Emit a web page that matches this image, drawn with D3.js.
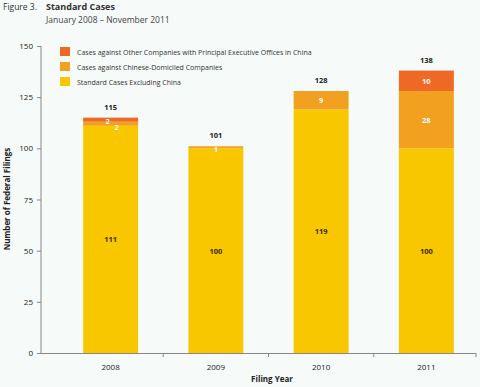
<!DOCTYPE html>
<html><head><meta charset="utf-8">
<script src="https://cdn.jsdelivr.net/npm/d3@7"></script>
<style>
html,body{margin:0;padding:0;background:#f6faf8;}
svg{display:block;font-family:"Open Sans","DejaVu Sans",sans-serif;}
</style></head>
<body><svg id="c" width="480" height="387"></svg>
<script>
const years = ["2008","2009","2010","2011"];
const standardExChina = [111,100,119,100];
const chineseDomiciled = [2,1,9,28];
const otherChinaPEO = [2,0,0,10];
const totals = [115,101,128,138];
const yTicks = [0,25,50,75,100,125,150];
const seriesNames = ["Standard Cases Excluding China","Cases against Chinese-Domiciled Companies","Cases against Other Companies with Principal Executive Offices in China"];
const seriesColors = ["#f8c700","#f2a01f","#ee6a24"];

const svg = d3.select("#c");
const y = d3.scaleLinear().domain([0,150]).range([353,46]);
const x = d3.scaleBand().domain(years).range([58,479]).paddingInner(0.478).paddingOuter(0.239);

// title
svg.append("text").attr("x",3).attr("y",10).attr("font-size",8.5).attr("fill","#333").text("Figure 3.");
svg.append("text").attr("x",46).attr("y",10).attr("font-size",9).attr("font-weight","bold").attr("fill","#333").text("Standard Cases");
svg.append("text").attr("x",46).attr("y",22.5).attr("font-size",8.5).attr("fill","#444").text("January 2008 \u2013 November 2011");

// axes
const yAxis = svg.append("g").attr("transform","translate(41,0)")
  .call(d3.axisLeft(y).tickValues(yTicks).tickSize(4).tickPadding(4));
yAxis.select(".domain").attr("stroke","#888").attr("d","M0,46V353");
yAxis.selectAll(".tick line").attr("stroke","#888");
yAxis.selectAll("text").attr("font-size",8).attr("fill","#222").attr("font-family","Open Sans, sans-serif");

svg.append("line").attr("x1",41).attr("x2",476).attr("y1",353.5).attr("y2",353.5).attr("stroke","#888");
const step = x.step();
[1,2,3].forEach(i=>{
  const tx = x.range()[0] + i*step;
  svg.append("line").attr("x1",tx).attr("x2",tx).attr("y1",353).attr("y2",357).attr("stroke","#888");
});
svg.append("line").attr("x1",476).attr("x2",476).attr("y1",353).attr("y2",357).attr("stroke","#888");
svg.append("g").selectAll("text").data(years).join("text")
  .attr("x",d=>x(d)+x.bandwidth()/2).attr("y",370).attr("text-anchor","middle")
  .attr("font-size",8).attr("fill","#222").text(d=>d);

svg.append("text").attr("x",272).attr("y",382).attr("text-anchor","middle")
  .attr("font-size",8).attr("font-weight","bold").attr("fill","#222").text("Filing Year");
svg.append("text").attr("transform","translate(10,199) rotate(-90)").attr("text-anchor","middle")
  .attr("font-size",8).attr("font-weight","bold").attr("fill","#222").text("Number of Federal Filings");

// stacked bars
const rows = years.map((yr,i)=>({year:yr, s0:standardExChina[i], s1:chineseDomiciled[i], s2:otherChinaPEO[i]}));
const stack = d3.stack().keys(["s0","s1","s2"])(rows);
const g = svg.append("g");
stack.forEach((layer,li)=>{
  g.append("g").selectAll("rect").data(layer).join("rect")
   .attr("x",d=>x(d.data.year)).attr("width",x.bandwidth())
   .attr("y",d=>y(d[1])).attr("height",d=>y(d[0])-y(d[1]))
   .attr("fill",seriesColors[li]);
});
// segment labels
stack.forEach((layer,li)=>{
  layer.forEach((d,i)=>{
    const v = d[1]-d[0];
    if(v<=0) return;
    let cx = x(d.data.year)+x.bandwidth()/2;
    let cy = (y(d[0])+y(d[1]))/2 + 3;
    if(v<5){
      if(d.data.year==="2008"){ if(li===1){cx+=6; cy+=3;} else {cx-=3; cy+=1;} }
      else { cy += 2; }
    }
    svg.append("text").attr("x",cx).attr("y",cy).attr("text-anchor","middle")
      .attr("font-size",7.5).attr("font-weight","bold")
      .attr("fill", li===0 ? "#3a2c00" : "#ffffff").text(v);
  });
});
// totals
svg.append("g").selectAll("text").data(years).join("text")
  .attr("x",d=>x(d)+x.bandwidth()/2).attr("y",(d,i)=>y(totals[i])-8)
  .attr("text-anchor","middle").attr("font-size",7.5).attr("font-weight","bold").attr("fill","#222")
  .text((d,i)=>totals[i]);

// legend
const legOrder = [2,1,0];
legOrder.forEach((si,k)=>{
  svg.append("rect").attr("x",60).attr("y",47+k*15).attr("width",10).attr("height",9).attr("fill",seriesColors[si]);
  svg.append("text").attr("x",77).attr("y",54.5+k*15).attr("font-size",7).attr("fill","#333").text(seriesNames[si]);
});
</script></body></html>
